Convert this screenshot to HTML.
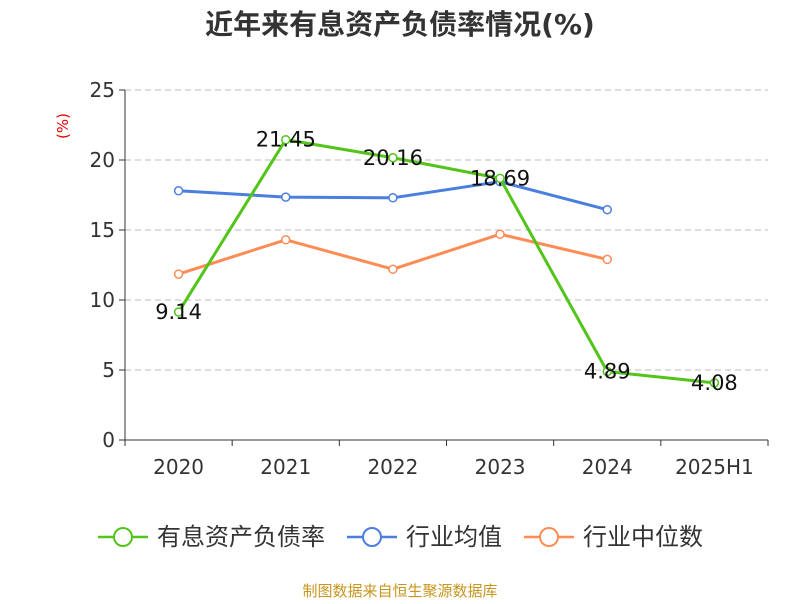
<!DOCTYPE html>
<html><head><meta charset="utf-8"><style>
body{margin:0;background:#fff;font-family:"DejaVu Sans","Noto Sans CJK SC",sans-serif}
</style></head><body>
<svg id="c" width="800" height="600" xmlns="http://www.w3.org/2000/svg" style="font-family:'DejaVu Sans','Noto Sans CJK SC',sans-serif">
<text x="400" y="34" text-anchor="middle" font-size="28" font-weight="bold" fill="#333">近年来有息资产负债率情况(%)</text>
<text x="68" y="126" text-anchor="middle" font-size="15" fill="#e00" transform="rotate(-90 68 126)">(%)</text>
<g id="axes"></g><g id="series"></g>
<g>
<g><line x1="98" y1="537" x2="148" y2="537" stroke="#52c41a" stroke-width="2.5"/><circle cx="123" cy="537" r="9" fill="#fff" stroke="#52c41a" stroke-width="2"/><text x="157" y="545" font-size="24" fill="#333">有息资产负债率</text></g>
<g><line x1="347" y1="537" x2="397" y2="537" stroke="#4a7fdf" stroke-width="2.5"/><circle cx="372" cy="537" r="9" fill="#fff" stroke="#4a7fdf" stroke-width="2"/><text x="406" y="545" font-size="24" fill="#333">行业均值</text></g>
<g><line x1="524" y1="537" x2="574" y2="537" stroke="#ff8c55" stroke-width="2.5"/><circle cx="549" cy="537" r="9" fill="#fff" stroke="#ff8c55" stroke-width="2"/><text x="583" y="545" font-size="24" fill="#333">行业中位数</text></g>
</g>
<text x="400" y="596" text-anchor="middle" font-size="15" fill="#c8961e">制图数据来自恒生聚源数据库</text>
</svg>
<script>
const categories=["2020","2021","2022","2023","2024","2025H1"];
const debtRatio=[9.14,21.45,20.16,18.69,4.89,4.08];
const industryAvg=[17.8,17.35,17.3,18.45,16.45];
const industryMedian=[11.85,14.3,12.2,14.7,12.9];
const yTicks=[0,5,10,15,20,25];
const NS="http://www.w3.org/2000/svg";
const x0=125,x1=768,y0=440,yTop=90,bw=(x1-x0)/categories.length;
const xs=i=>x0+bw*(i+0.5), ys=v=>y0-(v/25)*(y0-yTop);
function mk(t,a,p){const e=document.createElementNS(NS,t);for(const k in a)e.setAttribute(k,a[k]);p.appendChild(e);return e;}
const ax=document.getElementById('axes'),se=document.getElementById('series');
yTicks.forEach(v=>{
 if(v>0){const g=mk('line',{x1:x0,x2:x1,y1:ys(v),y2:ys(v),stroke:'#bbb','stroke-dasharray':'6,4'},ax);}
 mk('line',{x1:x0-6,x2:x0,y1:ys(v),y2:ys(v),stroke:'#333'},ax);
 const t=mk('text',{x:x0-10,y:ys(v)+7,'text-anchor':'end','font-size':20,fill:'#333'},ax);t.textContent=v;
 
});
mk('line',{x1:x0,x2:x0,y1:yTop,y2:y0,stroke:'#333'},ax);
mk('line',{x1:x0,x2:x1,y1:y0,y2:y0,stroke:'#333'},ax);
for(let i=0;i<=categories.length;i++)mk('line',{x1:x0+bw*i,x2:x0+bw*i,y1:y0,y2:y0+6,stroke:'#333'},ax);
categories.forEach((c,i)=>{const t=mk('text',{x:xs(i),y:474,'text-anchor':'middle','font-size':20,fill:'#333'},ax);t.textContent=c;
 });
function line(arr,col,name,labels){
 const g=mk('g',{},se);
 mk('polyline',{points:arr.map((v,i)=>xs(i)+','+ys(v)).join(' '),fill:'none',stroke:col,'stroke-width':3},g);
 arr.forEach((v,i)=>{const c=mk('circle',{cx:xs(i),cy:ys(v),r:4,fill:'#fff',stroke:col,'stroke-width':1.5},g);
  });
 if(labels)arr.forEach((v,i)=>{const t=mk('text',{x:xs(i),y:ys(v)+7,'text-anchor':'middle','font-size':21,fill:'#111'},g);t.textContent=v.toFixed(2);
  });
}
line(industryAvg,'#4a7fdf','industry-avg-line',false);
line(industryMedian,'#ff8c55','industry-median-line',false);
line(debtRatio,'#52c41a','debt-ratio-line',true);
</script>
</body></html>
